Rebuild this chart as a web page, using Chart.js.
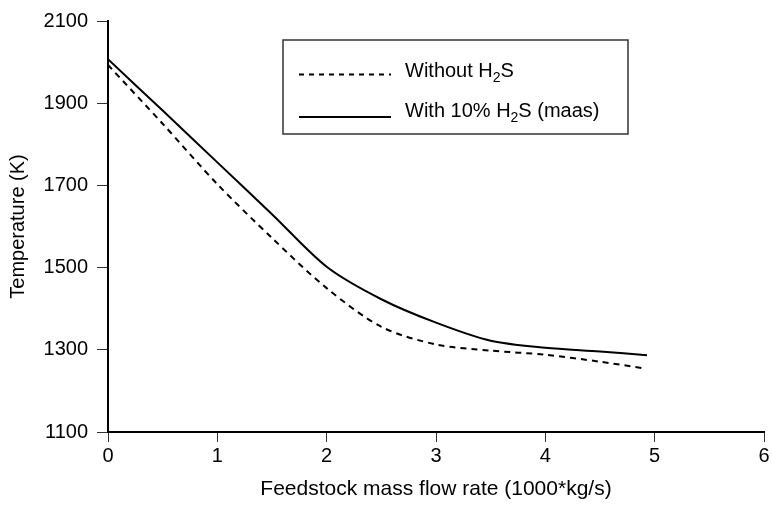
<!DOCTYPE html>
<html>
<head>
<meta charset="utf-8">
<script src="https://cdn.jsdelivr.net/npm/chart.js@4.4.0/dist/chart.umd.min.js"></script>
<style>
html,body{margin:0;padding:0;background:#fff;}
#wrap{width:772px;height:505px;}
</style>
</head>
<body>
<div id="wrap"><canvas id="c" width="772" height="505"></canvas></div>
<script>
const flowWithout = [0, 0.5, 1, 1.5, 2, 2.5, 3, 3.5, 4, 4.5, 4.9];
const tempWithout = [1993, 1850, 1703, 1572, 1450, 1356, 1313, 1298, 1288, 1271, 1255];
const flowWith = [0, 0.5, 1, 1.5, 2, 2.5, 3, 3.5, 4, 4.5, 4.93];
const tempWith = [2007, 1882, 1756, 1630, 1502, 1423, 1366, 1322, 1305, 1296, 1287];
const xTicks = [0, 1, 2, 3, 4, 5, 6];
const yTicks = [1100, 1300, 1500, 1700, 1900, 2100];
const seriesLabels = ["Without H2S", "With 10% H2S (maas)"];
const xTitle = "Feedstock mass flow rate (1000*kg/s)";
const yTitle = "Temperature (K)";

const FONT = "'Liberation Sans', Arial, Helvetica, sans-serif";

function pts(xs, ys){ return xs.map((x,i)=>({x:x, y:ys[i]})); }

function drawH2S(ctx, text, x, y){
  const parts = text.split("H2S");
  let cx = x;
  ctx.font = "20px " + FONT;
  ctx.fillText(parts[0] + "H", cx, y);
  cx += ctx.measureText(parts[0] + "H").width;
  ctx.font = "14px " + FONT;
  ctx.fillText("2", cx, y + 5);
  cx += ctx.measureText("2").width;
  ctx.font = "20px " + FONT;
  ctx.fillText("S" + (parts[1] || ""), cx, y);
}

const legendPlugin = {
  id: 'boxLegend',
  afterDatasetsDraw(chart){
    const ctx = chart.ctx;
    ctx.save();
    ctx.strokeStyle = '#333';
    ctx.lineWidth = 1.5;
    ctx.strokeRect(283, 40, 345, 94);
    ctx.strokeStyle = '#000';
    ctx.lineWidth = 2;
    ctx.setLineDash([5,5]);
    ctx.beginPath(); ctx.moveTo(299, 74.5); ctx.lineTo(391, 74.5); ctx.stroke();
    ctx.setLineDash([]);
    ctx.beginPath(); ctx.moveTo(299, 117); ctx.lineTo(391, 117); ctx.stroke();
    ctx.fillStyle = '#000';
    ctx.textBaseline = 'alphabetic';
    ctx.textAlign = 'left';
    drawH2S(ctx, seriesLabels[0], 405, 77);
    drawH2S(ctx, seriesLabels[1], 405, 117);
    ctx.restore();
  }
};

new Chart(document.getElementById('c'), {
  type: 'line',
  data: {
    datasets: [
      { label: seriesLabels[0], data: pts(flowWithout, tempWithout), borderColor: '#000', borderWidth: 2,
        borderDash: [6,5], pointRadius: 0, tension: 0.3, fill: false },
      { label: seriesLabels[1], data: pts(flowWith, tempWith), borderColor: '#000', borderWidth: 2,
        pointRadius: 0, tension: 0.3, fill: false }
    ]
  },
  options: {
    responsive: false,
    animation: false,
    devicePixelRatio: 1,
    layout: { padding: { left: 0, right: 8, top: 19, bottom: 0 } },
    plugins: { legend: { display: false }, tooltip: { enabled: false } },
    scales: {
      x: {
        type: 'linear', min: 0, max: 6,
        afterBuildTicks(s){ s.ticks = xTicks.map(v=>({value:v})); },
        afterFit(s){ s.height = 73; },
        grid: { drawOnChartArea: false, drawTicks: true, tickLength: 10, color: '#333', lineWidth: 1 },
        border: { display: true, color: '#000', width: 2 },
        ticks: { color: '#000', font: { family: FONT, size: 20 }, padding: 2, maxRotation: 0,
                 callback: v => String(v) },
        title: { display: true, text: xTitle, color: '#000', font: { family: FONT, size: 21 }, padding: { top: 0, bottom: 3 } }
      },
      y: {
        type: 'linear', min: 1100, max: 2100,
        afterBuildTicks(s){ s.ticks = yTicks.map(v=>({value:v})); },
        afterFit(s){ s.width = 108; },
        grid: { drawOnChartArea: false, drawTicks: true, tickLength: 11, color: '#333', lineWidth: 1 },
        border: { display: true, color: '#000', width: 2 },
        ticks: { color: '#000', font: { family: FONT, size: 20 }, padding: 9,
                 callback: v => String(v) },
        title: { display: true, text: yTitle, color: '#000', font: { family: FONT, size: 20 }, padding: { top: 6, bottom: 4 } }
      }
    }
  },
  plugins: [legendPlugin]
});
</script>
</body>
</html>
